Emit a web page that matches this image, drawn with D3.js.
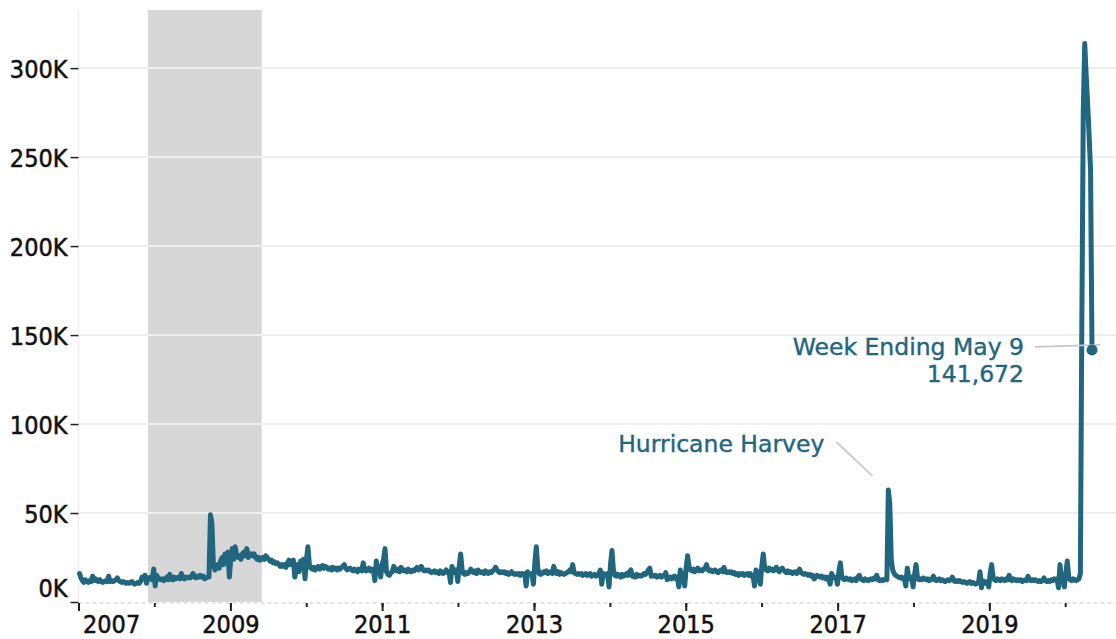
<!DOCTYPE html>
<html><head><meta charset="utf-8">
<script src="https://cdn.jsdelivr.net/npm/d3@7"></script>
<style>
html,body{margin:0;padding:0;background:#fff;}
svg{display:block;}
text{font-family:"DejaVu Sans Condensed","DejaVu Sans",sans-serif;font-stretch:condensed;}
text.note{font-family:"DejaVu Sans",sans-serif;font-stretch:normal;}
</style></head><body>
<svg id="chart" width="1116" height="639"></svg>
<script>
// Weekly initial claims, thousands, by week-ending Saturday of each year
const claims2007 = [16,13.5,12,11,12.5,11.5,11,12,11.5,14.5, 12,13,12,11.5,12.5,11.5,11,11.5,12,11.5, 14.5,11.5,12,11.5,12,12.5,13.5,12,11.5,11, 11.5,11,10.5,11,10.5,11,11.5,10.5,10,10.5, 11,10.5,11.5,14,13.5,15,10.5,13.5,13,14, 12.5,18.5];
const claims2008 = [9,15,13.5,13,12.5,13,12,13,14,12.5, 15.5,13,12.5,14,13,13.5,14,13,16,13.5, 13,14,13.5,14,13.5,14.5,16,14,13.5,14.5, 14,15,14,14.5,13,13.5,14,14,49,44, 21,18,20,21,19,23,25,21,27,26, 28,14];
const claims2009 = [25,30,24,31,26,25,26,24,27,28, 26,30,25,26,27,26,27,25,24,25, 23.5,24,25,24,26,25,24,23,23.5,22, 22.5,21.5,22,21,20,21,20,21,19.5,22, 23.5,21,22.5,23.5,14,19.5,21,17,23,21, 24,13];
const claims2010 = [24,31,21,19,18.5,19.5,18,19,20,18.5, 19,20.5,19,20,19.5,18.5,19,18,19.5,18.5, 19,18,19,18.5,19.5,20,21,19,18,18.5, 19,18,17.5,18.5,18,17,18.5,18,17.5,22, 18,17.5,18,19,17.5,18.5,18,12,23,18, 20,14];
const claims2011 = [21,24,30,17,15.5,15,16.5,17,20,18, 17.5,18.5,17,19.5,18,17.5,18,17,18.5,17.5, 17,18,17.5,18.5,19.5,18,19,20,18,17.5, 18,17.5,18,17,16.5,17,17.5,16.5,17,16, 17.5,16.5,16,17,18,16.5,17,11,20,17, 16.5,18,11.5];
const claims2012 = [20,27,18,16,15.5,16.5,16,17,18.5,17, 16.5,17.5,16,18,17,16.5,17,16,17.5,16.5, 16,17,16.5,17.5,18,19.5,18,17,16.5,17, 16.5,17,16,16.5,15.5,16,17,16,15.5,16, 15.5,16,15,16,15.5,16,9,17,16,15.5, 16,10];
const claims2013 = [22,31,19,16,15.5,16,17,16.5,17.5,16, 16.5,17,16,20,16.5,16,17,15.5,16.5,16, 15.5,16,16.5,17,18,17,21,16.5,16,15.5, 16,15.5,16,15,15.5,16,15,15.5,16,14.5, 15,15.5,14.5,15,16,18,10,16,15,14.5, 16,8.5];
const claims2014 = [21,29,18,15,14.5,15.5,15,14,15.5,14.5, 15,16,15,17,18,14.5,15,14,15.5,14.5, 15,14.5,15,16,15.5,16.5,18,19,14.5,15, 14.5,15,14,14.5,15,14,14.5,15,16.5,12.5, 13.5,14,13,14,14.5,13,14,8.5,18,14, 15,9];
const claims2015 = [19,26,20,18,17.5,18.5,17,18,19,17.5, 18,17.5,18.5,19,21,18,17.5,18,17,17.5, 18,17,16.5,17.5,18,17,19.5,17,16.5,17, 16.5,17,16,16.5,15.5,16,15,16,15.5,16, 15,15.5,16,15,16,14.5,15,9,18,17, 15,10];
const claims2016 = [20,27,19,18,17.5,19,18,18.5,17.5,18, 19.5,18,17,18.5,19,18,17,16.5,17.5,16.5, 17,16,16.5,17,16,17,18.5,16.5,16,15.5, 16,15.5,15,15.5,14.5,15,13,14,15,14.5, 14,14.5,13.5,14,13,14,12.5,10,16,14, 13.5,14,10];
const claims2017 = [17,22,14,13,12.5,13.5,13,12.5,13,12, 12.5,13,12,14,15,13,12.5,12,13,12.5, 12,12.5,13,12.5,13.5,13,15,12.5,12,12.5, 12,12.5,13,12.5,63,55,24,18,16,15, 14.5,14,13.5,14,13,13.5,9,19,13.5,13, 14,8.5];
const claims2018 = [15,21,14,12.5,13,12.5,13.5,13,12.5,13, 12,12.5,13,14.5,12.5,12,12.5,13,12,12.5, 12,11.5,12,12.5,12,12.5,14,12,11.5,12, 11.5,12,11.5,11,11.5,11,10.5,11,11.5,10.5, 11,10.5,10,10.5,11,17,8,12,11,10.5, 11.5,8.5];
const claims2019 = [16,21,14,12.5,12,13,12.5,12,13,12.5, 12,13,12.5,15,12.5,12,13,12.5,12,12.5, 12,12.5,11.5,12,12.5,12,14.5,12.5,12,12.5, 12,12.5,12,11.5,12,11.5,12,13.5,12,11.5, 12,11.5,12.5,12,13,12.5,13,8,21,12.5, 13,8.5];
const claims2020 = [16,23,14,12.5,12,13,12.5,12,12.5,13, 16,155.657,275.597,313.832,296,280,262,243,141.672];

const seriesYears = [2007,2008,2009,2010,2011,2012,2013,2014,2015,2016,2017,2018,2019,2020];
const seriesValues = [claims2007,claims2008,claims2009,claims2010,claims2011,claims2012,claims2013,claims2014,claims2015,claims2016,claims2017,claims2018,claims2019,claims2020];

const yTickValues = [0,50000,100000,150000,200000,250000,300000];
const xTickYears = [2007,2008,2009,2010,2011,2012,2013,2014,2015,2016,2017,2018,2019,2020];
const xLabelYears = [2007,2009,2011,2013,2015,2017,2019];
const recessionStart = "2007-12-01";
const recessionEnd = "2009-06-01";
const harveyLabel = "Hurricane Harvey";
const lastLabel = "Week Ending May 9";

(function(){
const data = [];
seriesYears.forEach((yr, k) => {
  const sats = d3.timeSaturday.range(new Date(yr,0,1), new Date(yr+1,0,1));
  seriesValues[k].forEach((v,i) => data.push({date: sats[i], value: Math.round(v*1000)}));
});

const W = 1116;
const mLeft = 78.5, mRight = 1092, mTop = 10, mBottom = 602;
const svg = d3.select("#chart");
const parse = d3.timeParse("%Y-%m-%d");

const x = d3.scaleTime()
  .domain([new Date(2007,0,1), data[data.length-1].date])
  .range([mLeft, mRight]);
const maxV = d3.max(data, d => d.value);
const y = d3.scaleLinear().domain([0, maxV*1.06]).range([mBottom, mTop]);

const COLOR = "#1f667e";
const TEXT = "#111";

svg.append("rect")
  .attr("x", x(parse(recessionStart)))
  .attr("y", mTop)
  .attr("width", x(parse(recessionEnd)) - x(parse(recessionStart)))
  .attr("height", mBottom - mTop)
  .attr("fill", "#d7d7d7");

svg.append("g").selectAll("line")
  .data(yTickValues.filter(d => d > 0))
  .join("line")
  .attr("x1", mLeft).attr("x2", W)
  .attr("y1", d => y(d)).attr("y2", d => y(d))
  .attr("stroke", "#efefef").attr("stroke-width", 2);

svg.append("line")
  .attr("x1", mLeft).attr("x2", W)
  .attr("y1", y(0)+1).attr("y2", y(0)+1)
  .attr("stroke", "#dcdcdc").attr("stroke-width", 1.5)
  .attr("stroke-dasharray", "4 3");

svg.append("line")
  .attr("x1", mLeft).attr("x2", mLeft)
  .attr("y1", mTop).attr("y2", mBottom)
  .attr("stroke", "#eeeeee").attr("stroke-width", 1.5);

const yAxis = svg.append("g")
  .attr("transform", `translate(${mLeft},0)`)
  .call(d3.axisLeft(y).tickValues(yTickValues).tickFormat(d => (d/1000) + "K").tickSize(8).tickPadding(3));
yAxis.select(".domain").remove();
yAxis.selectAll(".tick line").attr("stroke", "#222").attr("stroke-width", 1.5);
yAxis.selectAll(".tick text")
  .attr("fill", TEXT).attr("stroke", TEXT).attr("stroke-width", 0.5)
  .style("font-size", "25px")
  .attr("dy", "0.36em");
yAxis.selectAll(".tick").filter(d => d === 0).select("text").attr("y", -15);

const xMinor = svg.append("g")
  .attr("transform", `translate(0,${mBottom+1})`)
  .call(d3.axisBottom(x).tickValues(xTickYears.map(yr => new Date(yr,0,1))).tickSize(4).tickFormat(""));
xMinor.select(".domain").remove();
xMinor.selectAll(".tick line").attr("stroke", "#222").attr("stroke-width", 2);

const xMajor = svg.append("g")
  .attr("transform", `translate(0,${mBottom+1})`)
  .call(d3.axisBottom(x).tickValues(xLabelYears.map(yr => new Date(yr,0,1))).tickSize(8).tickPadding(4).tickFormat(d3.timeFormat("%Y")));
xMajor.select(".domain").remove();
xMajor.selectAll(".tick line").attr("stroke", "#222").attr("stroke-width", 2);
xMajor.selectAll(".tick text").attr("fill", TEXT).attr("stroke", TEXT).attr("stroke-width", 0.5).style("font-size", "25px");
xMajor.selectAll(".tick").filter((d,i) => i === 0).select("text").attr("text-anchor", "start").attr("x", 4);

const line = d3.line().x(d => x(d.date)).y(d => y(d.value));
svg.append("path")
  .datum(data)
  .attr("d", line)
  .attr("fill", "none")
  .attr("stroke", COLOR)
  .attr("stroke-width", 5)
  .attr("stroke-linejoin", "round")
  .attr("stroke-linecap", "round");

const last = data[data.length-1];
const lx = x(last.date), ly = y(last.value);
svg.append("line")
  .attr("x1", lx - 57).attr("y1", ly - 3)
  .attr("x2", lx + 8).attr("y2", ly - 5)
  .attr("stroke", "#c8c8c8").attr("stroke-width", 1.8);
svg.append("circle").attr("cx", lx).attr("cy", ly).attr("r", 5.5).attr("fill", COLOR);
const lastText = svg.append("text").attr("class", "note")
  .attr("x", lx - 68).attr("y", ly + 5)
  .attr("text-anchor", "end").attr("fill", COLOR).attr("stroke", COLOR).attr("stroke-width", 0.4)
  .style("font-size", "23.5px");
lastText.append("tspan").attr("x", lx - 68).text(lastLabel);
lastText.append("tspan").attr("x", lx - 68).attr("dy", 27).text(d3.format(",")(last.value));

const harvey = data.filter(d => d.date.getFullYear() === 2017).reduce((a,b) => b.value > a.value ? b : a);
const hx = x(harvey.date), hy = y(harvey.value);
svg.append("line")
  .attr("x1", hx - 52).attr("y1", hy - 48)
  .attr("x2", hx - 16).attr("y2", hy - 14)
  .attr("stroke", "#c8c8c8").attr("stroke-width", 1.8);
svg.append("text").attr("class", "note")
  .attr("x", hx - 64).attr("y", hy - 38)
  .attr("text-anchor", "end").attr("fill", COLOR).attr("stroke", COLOR).attr("stroke-width", 0.4)
  .style("font-size", "23.5px")
  .text(harveyLabel);
})();
</script>
</body></html>
